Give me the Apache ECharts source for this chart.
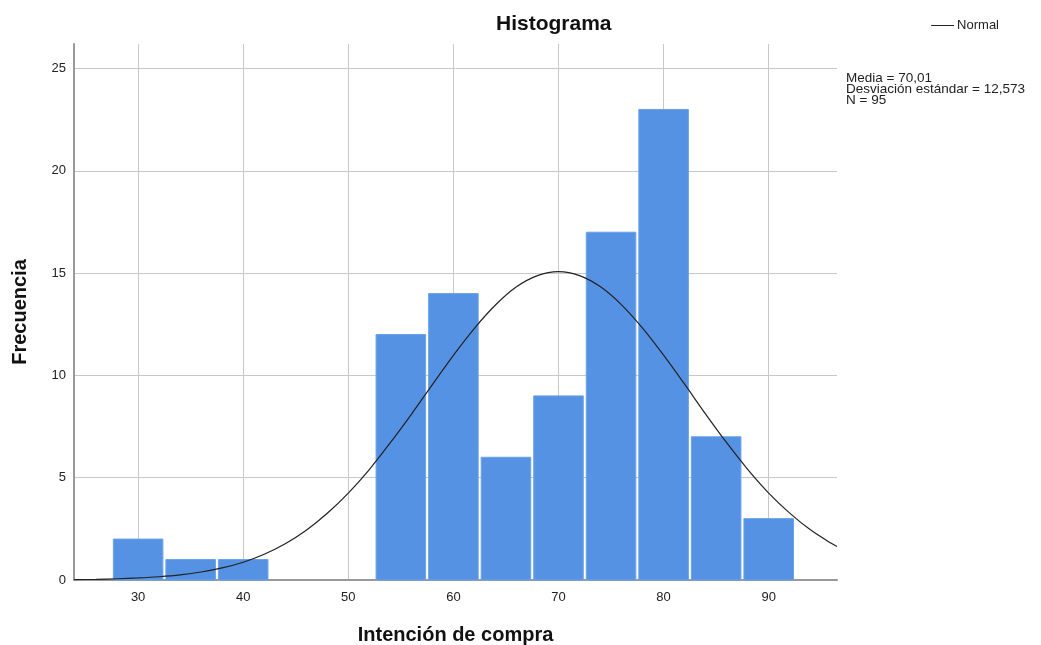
<!DOCTYPE html>
<html>
<head>
<meta charset="utf-8">
<script src="https://cdn.jsdelivr.net/npm/echarts@6/dist/echarts.min.js"></script>
<style>
  html, body { margin: 0; padding: 0; background: #fff; }
  #chart { width: 1041px; height: 645px; }
</style>
</head>
<body>
<div id="chart"></div>
<script>
// centros de los intervalos (ancho 5) y frecuencias
var binCenters = [30, 35, 40, 45, 50, 55, 60, 65, 70, 75, 80, 85, 90];
var binCounts  = [2, 1, 1, 0, 0, 12, 14, 6, 9, 17, 23, 7, 3];
var binWidth = 5;

// curva normal
var curveX = [23.9, 26, 28, 30, 32, 34, 36, 38, 40, 42, 44, 46, 48, 50, 52, 54, 56, 58, 60, 62, 64, 66, 68, 70,
              72, 74, 76, 78, 80, 82, 84, 86, 88, 90, 92, 94, 96, 96.5];
var curveY = [0.02, 0.03, 0.06, 0.1, 0.16, 0.25, 0.39, 0.59, 0.87, 1.26, 1.77, 2.43, 3.26, 4.25, 5.4, 6.71, 8.1, 9.55, 10.98, 12.3, 13.44, 14.33, 14.88, 15.07,
              14.88, 14.33, 13.45, 12.31, 10.99, 9.57, 8.11, 6.71, 5.41, 4.25, 3.27, 2.44, 1.78, 1.64];

var statLines = ['Media = 70,01', 'Desviación estándar = 12,573', 'N = 95'];

var FONT = '"Liberation Sans", Arial, sans-serif';
var GRID_COLOR = '#c8c8c8';
var NONE = 'rgba(0,0,0,0)';

var chart = echarts.init(document.getElementById('chart'));

var barData = [];
for (var i = 0; i < binCenters.length; i++) {
    if (binCounts[i] > 0) barData.push([binCenters[i], binCounts[i]]);
}
var lineData = [];
for (var j = 0; j < curveX.length; j++) {
    lineData.push([curveX[j], curveY[j]]);
}

var option = {
    animation: false,
    textStyle: { fontFamily: FONT },
    grid: { left: 74, right: 204, top: 44, bottom: 65, containLabel: false, outerBoundsMode: 'none' },
    legend: {
        right: 37, top: 14,
        itemWidth: 23, itemHeight: 1, itemGap: 4,
        data: [{ name: 'Normal', icon: 'rect' }],
        textStyle: { fontSize: 13, color: '#222', fontFamily: FONT, padding: [0, 0, 0, -2] }
    },
    graphic: [
        {
            type: 'text', left: 496, top: 14,
            style: { text: 'Histograma', font: 'bold 21px ' + FONT, fill: '#111' }
        },
        {
            type: 'text', left: 846, top: 71,
            style: { text: statLines.join('\n'), font: '13.5px ' + FONT, fill: '#222', lineHeight: 11 }
        }
    ],
    xAxis: {
        type: 'value', min: 23.9, max: 96.5,
        splitNumber: 7,
        name: 'Intención de compra', nameLocation: 'middle', nameGap: 45,
        nameTextStyle: { fontSize: 20, fontWeight: 'bold', color: '#111', fontFamily: FONT },
        axisLine: { show: true, lineStyle: { color: '#999', width: 2 } },
        axisTick: { show: false },
        axisLabel: { showMinLabel: false, showMaxLabel: false, fontSize: 13, color: '#222', margin: 11 },
        splitLine: {
            show: true,
            lineStyle: { color: [NONE, GRID_COLOR, GRID_COLOR, GRID_COLOR, GRID_COLOR, GRID_COLOR, GRID_COLOR, GRID_COLOR, NONE], width: 1 }
        }
    },
    yAxis: {
        type: 'value', min: 0, max: 26.2, interval: 5,
        name: 'Frecuencia', nameLocation: 'middle', nameGap: 44, nameRotate: 90,
        nameTextStyle: { fontSize: 20, fontWeight: 'bold', color: '#111', fontFamily: FONT },
        axisLine: { show: true, lineStyle: { color: '#999', width: 2 } },
        axisTick: { show: false },
        axisLabel: { showMaxLabel: false, fontSize: 13, color: '#222', margin: 8 },
        splitLine: {
            show: true,
            lineStyle: { color: [NONE, GRID_COLOR, GRID_COLOR, GRID_COLOR, GRID_COLOR, GRID_COLOR, NONE], width: 1 }
        }
    },
    series: [
        {
            name: 'Frecuencia',
            type: 'custom',
            data: barData,
            renderItem: function (params, api) {
                var c = api.value(0), v = api.value(1);
                var p0 = api.coord([c - binWidth / 2, v]);
                var p1 = api.coord([c + binWidth / 2, 0]);
                return {
                    type: 'rect',
                    shape: { x: p0[0] + 1.5, y: p0[1], width: p1[0] - p0[0] - 3, height: p1[1] - p0[1] },
                    style: { fill: '#5592e3', stroke: '#6aa2ea', lineWidth: 1 }
                };
            },
            z: 2
        },
        {
            name: 'Normal',
            type: 'line',
            data: lineData,
            smooth: 0.3,
            showSymbol: false,
            lineStyle: { color: '#222', width: 1.2 },
            itemStyle: { color: '#222' },
            z: 3
        }
    ]
};

chart.setOption(option);
</script>
</body>
</html>
